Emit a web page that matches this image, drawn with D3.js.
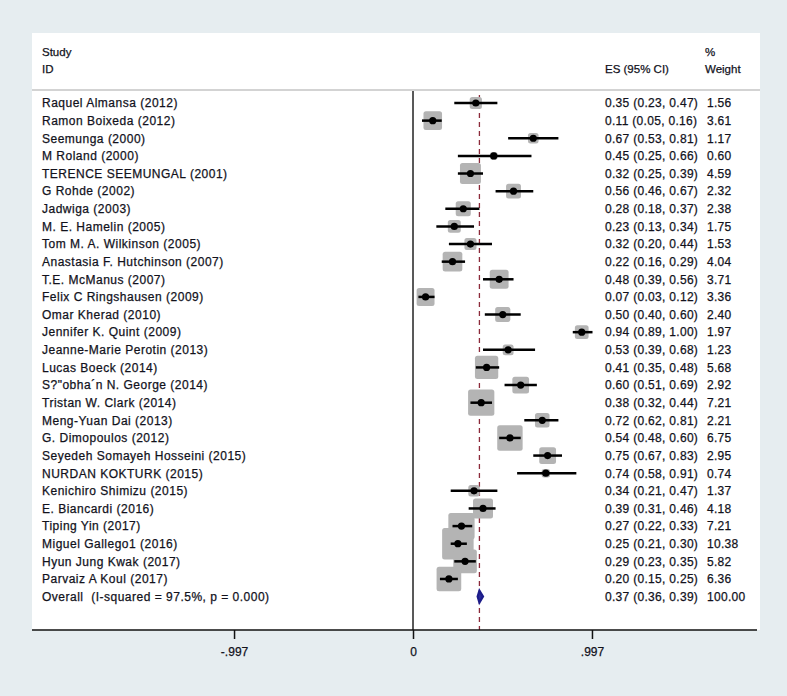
<!DOCTYPE html>
<html><head><meta charset="utf-8">
<script src="https://cdn.jsdelivr.net/npm/d3@7/dist/d3.min.js"></script>
<style>
body{margin:0;background:#e6edf0;}
svg{display:block;}
text{font-family:"Liberation Sans",Arial,sans-serif;fill:#12121c;stroke:#12121c;stroke-width:0.25px;white-space:pre;}
</style></head>
<body>
<script>
const studies = ["Raquel Almansa (2012)","Ramon Boixeda (2012)","Seemunga (2000)","M Roland (2000)","TERENCE SEEMUNGAL (2001)","G Rohde (2002)","Jadwiga (2003)","M. E. Hamelin (2005)","Tom M. A. Wilkinson (2005)","Anastasia F. Hutchinson (2007)","T.E. McManus (2007)","Felix C Ringshausen (2009)","Omar Kherad (2010)","Jennifer K. Quint (2009)","Jeanne-Marie Perotin (2013)","Lucas Boeck (2014)","S?\"obha´n N. George (2014)","Tristan W. Clark (2014)","Meng-Yuan Dai (2013)","G. Dimopoulos (2012)","Seyedeh Somayeh Hosseini (2015)","NURDAN KOKTURK (2015)","Kenichiro Shimizu (2015)","E. Biancardi (2016)","Tiping Yin (2017)","Miguel Gallego1 (2016)","Hyun Jung Kwak (2017)","Parvaiz A Koul (2017)"];
const es    = [0.35,0.11,0.67,0.45,0.32,0.56,0.28,0.23,0.32,0.22,0.48,0.07,0.50,0.94,0.53,0.41,0.60,0.38,0.72,0.54,0.75,0.74,0.34,0.39,0.27,0.25,0.29,0.20];
const lower = [0.23,0.05,0.53,0.25,0.25,0.46,0.18,0.13,0.20,0.16,0.39,0.03,0.40,0.89,0.39,0.35,0.51,0.32,0.62,0.48,0.67,0.58,0.21,0.31,0.22,0.21,0.23,0.15];
const upper = [0.47,0.16,0.81,0.66,0.39,0.67,0.37,0.34,0.44,0.29,0.56,0.12,0.60,1.00,0.68,0.48,0.69,0.44,0.81,0.60,0.83,0.91,0.47,0.46,0.33,0.30,0.35,0.25];
const weight= [1.56,3.61,1.17,0.60,4.59,2.32,2.38,1.75,1.53,4.04,3.71,3.36,2.40,1.97,1.23,5.68,2.92,7.21,2.21,6.75,2.95,0.74,1.37,4.18,7.21,10.38,5.82,6.36];
const overallLabel = "Overall  (I-squared = 97.5%, p = 0.000)";
const overall = {es:0.37, lower:0.36, upper:0.39, weight:"100.00"};
const tickValues = [-0.997, 0, 0.997];
const tickLabels = ["-.997","0",".997"];

const W=787,H=696;
const svg=d3.select("body").append("svg").attr("width",W).attr("height",H);
svg.append("rect").attr("width",W).attr("height",H).attr("fill","#e6edf0");
const panel={x:32,y:33,w:728,h:597};
svg.append("rect").attr("x",panel.x).attr("y",panel.y).attr("width",panel.w).attr("height",panel.h).attr("fill","#fff");

const x=d3.scaleLinear().domain([-2.1226,1.9164]).range([32,757]);
const rows=studies.concat([overallLabel]);
const y=d3.scalePoint().domain(rows).range([103,596.6]);
const boxSide=d3.scaleSqrt().domain([0,10.38]).range([0,31.5]);
const fmt=d3.format(".2f");

// header
const g=svg.append("g");
g.append("text").attr("x",42).attr("y",56).attr("font-size",11.5).text("Study");
g.append("text").attr("x",42).attr("y",73).attr("font-size",11.5).text("ID");
g.append("text").attr("x",605).attr("y",73).attr("font-size",11.5).text("ES (95% CI)");
g.append("text").attr("x",705).attr("y",56).attr("font-size",11.5).text("%");
g.append("text").attr("x",705).attr("y",73).attr("font-size",11.5).text("Weight");
g.append("line").attr("x1",32).attr("x2",760).attr("y1",90).attr("y2",90).attr("stroke","#c4c4c4").attr("stroke-width",1.5);

// zero line
svg.append("line").attr("x1",x(0)).attr("x2",x(0)).attr("y1",91).attr("y2",630).attr("stroke","#222").attr("stroke-width",1.5);
// overall dashed line
svg.append("line").attr("x1",x(overall.es)).attr("x2",x(overall.es)).attr("y1",95).attr("y2",630)
  .attr("stroke","#8c2a3a").attr("stroke-width",1.3).attr("stroke-dasharray","5,4");

const data=studies.map((s,i)=>({s,es:es[i],lo:lower[i],hi:upper[i],w:weight[i]}));
// boxes
svg.append("g").selectAll("rect").data(data).join("rect")
  .attr("x",d=>x(d.es)-boxSide(d.w)/2).attr("y",d=>y(d.s)-boxSide(d.w)/2)
  .attr("width",d=>boxSide(d.w)).attr("height",d=>boxSide(d.w))
  .attr("rx",2.5).attr("fill","#b4b4b4");
// CI lines
svg.append("g").selectAll("line").data(data).join("line")
  .attr("x1",d=>x(d.lo)).attr("x2",d=>x(d.hi)).attr("y1",d=>y(d.s)).attr("y2",d=>y(d.s))
  .attr("stroke","#000").attr("stroke-width",2.5);
// point markers
svg.append("g").selectAll("circle").data(data).join("circle")
  .attr("cx",d=>x(d.es)).attr("cy",d=>y(d.s)).attr("r",3.6).attr("fill","#000");

// overall diamond
const oy=y(overallLabel);
svg.append("path").attr("d",`M${x(overall.lower)},${oy} L${x(overall.es)},${oy-6} L${x(overall.upper)},${oy} L${x(overall.es)},${oy+6} Z`)
  .attr("fill","#2a2a9a").attr("stroke","#1c1c8a").attr("stroke-width",2.2);

// labels
svg.append("g").selectAll("text").data(rows).join("text")
  .attr("x",42).attr("y",d=>y(d)).attr("dy","0.36em").attr("font-size",12).attr("letter-spacing",0.5).text(d=>d);
// ES column
const esText=data.map(d=>`${fmt(d.es)} (${fmt(d.lo)}, ${fmt(d.hi)})`).concat([`${fmt(overall.es)} (${fmt(overall.lower)}, ${fmt(overall.upper)})`]);
svg.append("g").selectAll("text").data(rows).join("text")
  .attr("x",605).attr("y",d=>y(d)).attr("dy","0.36em").attr("font-size",12).attr("letter-spacing",0.3).text((d,i)=>esText[i]);
const wText=weight.map(fmt).concat([overall.weight]);
svg.append("g").selectAll("text").data(rows).join("text")
  .attr("x",707).attr("y",d=>y(d)).attr("dy","0.36em").attr("font-size",12).attr("letter-spacing",0.3).text((d,i)=>wText[i]);

// axis
const axis=d3.axisBottom(x).tickValues(tickValues).tickFormat((d,i)=>tickLabels[i]).tickSize(9).tickPadding(8);
const ag=svg.append("g").attr("transform","translate(0,630)").call(axis);
ag.select(".domain").attr("d","M32,0H757").attr("stroke","#111").attr("stroke-width",1.5);
ag.selectAll(".tick line").attr("stroke","#111").attr("stroke-width",1.5);
ag.selectAll(".tick text").attr("font-size",12).attr("fill","#12121c").attr("font-family","Liberation Sans, Arial, sans-serif");
</script>
</body></html>
